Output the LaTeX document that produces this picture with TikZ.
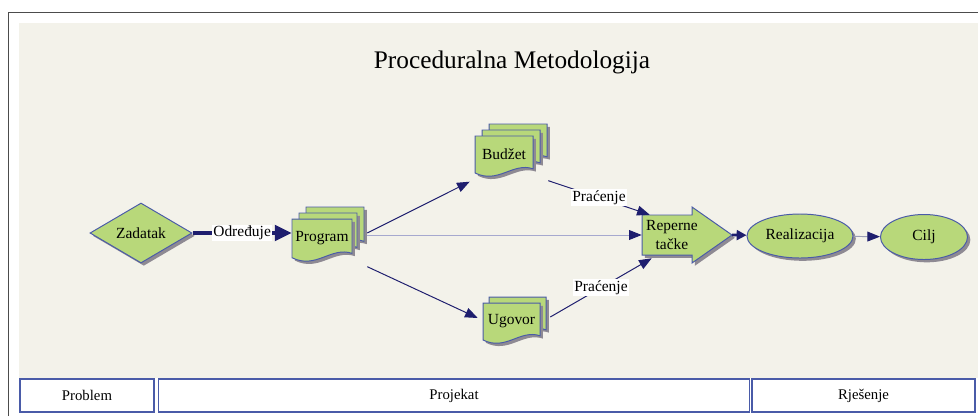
\documentclass[tikz,border=0pt]{standalone}
\usepackage{fontspec}
\setmainfont{Liberation Serif}
\usepackage{xcolor}
\usetikzlibrary{shapes.geometric,arrows.meta,shadows,calc}

\definecolor{beige}{HTML}{F3F2EA}
\definecolor{leaf}{HTML}{B8D87A}
\definecolor{rim}{HTML}{4A5BA8}
\definecolor{navy}{HTML}{1E1E6E}
\definecolor{shade}{HTML}{8E8A93}
\definecolor{pale}{HTML}{A6A9CF}
\definecolor{boxshade}{HTML}{A9B3DB}

\tikzset{
  page/.style={fill=leaf, draw=rim, line width=0.7pt, drop shadow={shadow xshift=2pt, shadow yshift=-2pt, fill=shade, opacity=1}},
  txt/.style={font=\fontsize{11}{13}\selectfont, inner sep=0pt},
  ell/.style={ellipse, txt, fill=leaf, draw=rim, line width=0.7pt, drop shadow={shadow xshift=2pt, shadow yshift=-2pt, fill=shade, opacity=1}},
  conn/.style={draw=navy, line width=0.7pt, -{Triangle[length=9pt,width=7pt,color=navy]}},
  lbl/.style={fill=white, text=black, inner sep=1pt, font=\fontsize{11}{13}\selectfont},
  band/.style={draw=rim, fill=white, line width=0.8pt, minimum height=0.825cm, font=\fontsize{10.5}{12}\selectfont, drop shadow={shadow xshift=1pt, shadow yshift=-1pt, fill=boxshade, opacity=1}},
  frame/.style={draw=black!70, line width=1.4pt}
}

% one sheet of a document stack: left, top, width, height
\newcommand{\docpage}[4]{%
  \path[page] (#1,#2) -- ({#1+#3},#2) -- ({#1+#3},{#2+0.78*#4})
    .. controls ({#1+0.65*#3},{#2+0.62*#4}) and ({#1+0.4*#3},{#2+1.15*#4}) .. (#1,{#2+0.88*#4}) -- cycle;}

\begin{document}
\begin{tikzpicture}[x=0.025cm, y=-0.025cm]
            \useasboundingbox (0,0) rectangle (978,416);
            \fill[white] (0,0) rectangle (978,416);
            \fill[beige] (19,23) rectangle (978,378);
            \draw[frame] (8.5,416) -- (8.5,12.5) -- (978,12.5);

            \node[font=\fontsize{18}{22}\selectfont] (title) at (512,62) {Proceduralna Metodologija};

            \node[diamond, txt, fill=leaf, draw=rim, line width=0.7pt, aspect=1.7, minimum width=2.55cm, minimum height=1.5cm,
                  drop shadow={shadow xshift=2pt, shadow yshift=-2pt, fill=shade, opacity=1}] (zadatak) at (141,233) {Zadatak};

            \docpage{306}{207}{58}{44}
            \docpage{299}{213}{58}{44}
            \docpage{292}{219}{60}{44}
            \node[txt, minimum width=1.5cm, minimum height=0.97cm] (program) at (322,238) {Program};

            \docpage{489}{124}{58}{42}
            \docpage{482}{130}{58}{42}
            \docpage{475}{136}{58}{42}
            \node[txt, minimum width=1.45cm, minimum height=0.92cm] (budzet) at (504,154) {Budžet};

            \docpage{489}{297}{57}{42}
            \docpage{483}{303}{57}{42}
            \node[txt, minimum width=1.425cm, minimum height=0.92cm] (ugovor) at (511.5,321) {Ugovor};

            \path[page] (642,215) -- (692,215) -- (692,207) -- (732,235) -- (692,263) -- (692,255) -- (642,255) -- cycle;
            \node[txt, align=center, minimum width=1.5cm, minimum height=1cm] (rep) at (672,235) {Reperne\\tačke};
            \coordinate (reptip) at (732,235);

            \node[ell, minimum width=2.65cm, minimum height=1.1cm] (real) at (800,236) {Realizacija};
            \node[ell, minimum width=2.175cm, minimum height=1.125cm] (cilj) at (924,237) {Cilj};

            \node[band, minimum width=3.35cm] (problem) at (87,395.5) {Problem};
            \node[band, minimum width=14.75cm] (projekat) at (454,395.5) {Projekat};
            \node[band, minimum width=5.575cm] (rjesenje) at (863.5,395.5) {Rješenje};

            \draw[navy, line width=2.6pt, -{Triangle[length=12pt,width=11pt]}] (zadatak) -- (program.west |- zadatak) node[lbl, midway] {Određuje};
            \draw[conn] ($(program.east)+(15,-5)$) -- ($(budzet.south west)+(-5,9)$);
            \draw[conn, draw=pale] ($(program.east)+(15,-3)$) -- (rep.west);
            \draw[conn] ($(program.south east)+(15,9)$) -- ($(ugovor.west)+(-5,-3)$);
            \draw[conn] ($(budzet.south east)+(15,8)$) -- ($(rep.north west)+(8,0)$) node[lbl, midway] {Praćenje};
            \draw[conn] ($(ugovor.east)+(10,-4)$) -- ($(rep.south west)+(10,3)$) node[lbl, midway] {Praćenje};
            \draw[navy, line width=2pt, -{Triangle[length=7pt,width=7pt]}] (reptip) -- (real);
            \draw[conn, draw=pale!70!gray] (real) -- (cilj);
        \end{tikzpicture}
\end{document}
